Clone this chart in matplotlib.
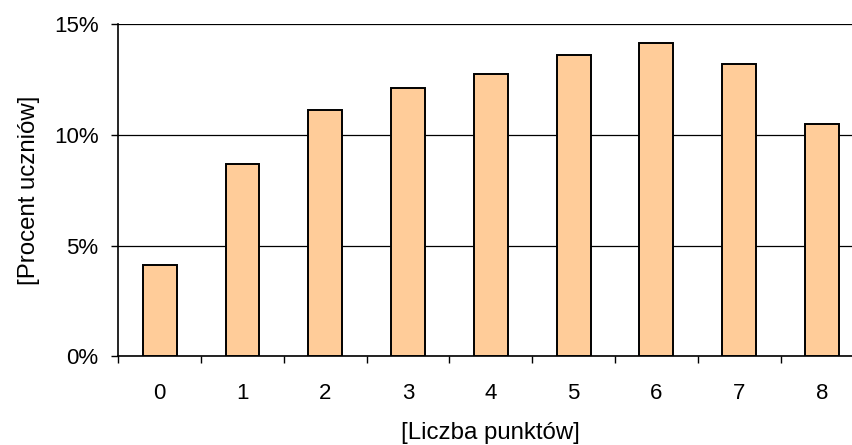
import matplotlib.pyplot as plt
import numpy as np
from matplotlib.ticker import FuncFormatter

plt.rcParams['font.family'] = ['Liberation Sans', 'DejaVu Sans']

punkty = ['0', '1', '2', '3', '4', '5', '6', '7', '8']
procent = [4.1, 8.7, 11.1, 12.1, 12.75, 13.6, 14.15, 13.2, 10.5]

fig = plt.figure(figsize=(8.52, 4.45), dpi=100)
ax = fig.add_axes([0.1389, 0.1993, 0.8745, 0.7467])

x = np.arange(len(punkty))
ax.bar(x, procent, width=0.41, color='#FFCC99', edgecolor='black', linewidth=1.4, zorder=3)

ax.set_xlim(-0.5, len(punkty) - 0.5)
ax.set_ylim(0, 15)
ax.set_yticks([0, 5, 10, 15])
ax.yaxis.set_major_formatter(FuncFormatter(lambda v, p: f'{v:.0f}%'))
ax.yaxis.grid(True, color='black', linewidth=0.9, zorder=0)

ax.set_xticks(x)
ax.set_xticklabels(punkty)
ax.set_xticks(np.arange(-0.5, len(punkty), 1), minor=True)
ax.tick_params(axis='x', which='major', length=0, pad=19, labelsize=16)
ax.tick_params(axis='x', which='minor', length=5.3, width=1, direction='out')
ax.tick_params(axis='y', length=5.3, width=1, direction='out', pad=9, labelsize=16)

for s in ['top', 'right']:
    ax.spines[s].set_visible(False)
ax.spines['left'].set_linewidth(1.2)
ax.spines['bottom'].set_linewidth(1.2)

ax.set_xlabel('[Liczba punktów]', fontsize=17.3, labelpad=13)
ax.set_ylabel('[Procent uczniów]', fontsize=17.3, labelpad=10)

plt.savefig('out.png', dpi=100)
